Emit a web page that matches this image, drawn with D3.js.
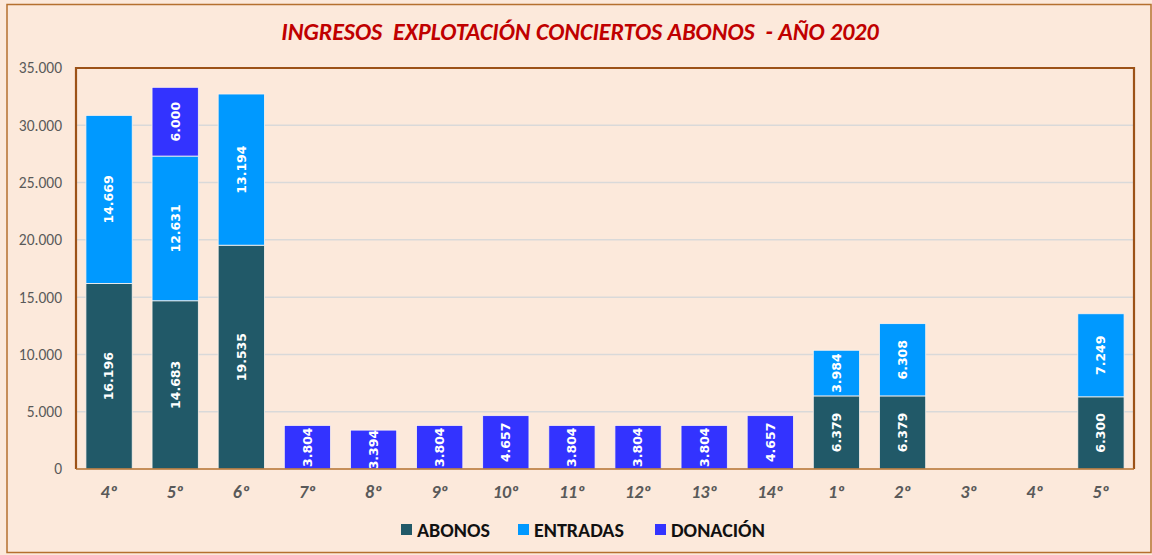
<!DOCTYPE html>
<html>
<head>
<meta charset="utf-8">
<script src="https://cdn.jsdelivr.net/npm/d3@7"></script>
<style>
  body { margin: 0; background: #fff; }
  svg { display: block; }
</style>
</head>
<body>
<svg id="chart"></svg>
<script>
const categories = ['4º', '5º', '6º', '7º', '8º', '9º', '10º', '11º', '12º', '13º', '14º', '1º', '2º', '3º', '4º', '5º']
const abonos = [16196, 14683, 19535, 0, 0, 0, 0, 0, 0, 0, 0, 6379, 6379, 0, 0, 6300]
const entradas = [14669, 12631, 13194, 0, 0, 0, 0, 0, 0, 0, 0, 3984, 6308, 0, 0, 7249]
const donacion = [0, 6000, 0, 3804, 3394, 3804, 4657, 3804, 3804, 3804, 4657, 0, 0, 0, 0, 0]
const seriesNames = ['ABONOS', 'ENTRADAS', 'DONACIÓN']
const yTicks = [0, 5000, 10000, 15000, 20000, 25000, 30000, 35000]
const title = 'INGRESOS  EXPLOTACIÓN CONCIERTOS ABONOS  - AÑO 2020'

const colors = { ABONOS: '#215968', ENTRADAS: '#0099FF', 'DONACIÓN': '#3333FF' }

const width = 1152
const height = 555
const margin = { top: 68, right: 18, bottom: 86, left: 76 }
const font = 'Carlito, Lato, "Open Sans", sans-serif'

const svg = d3.select('#chart').attr('width', width).attr('height', height)

// background + outer frame
svg.append('rect')
  .attr('x', 0).attr('y', 0).attr('width', width).attr('height', height)
  .attr('fill', '#FCE9DB')
svg.append('rect')
  .attr('x', 7).attr('y', 4.5).attr('width', width - 8).attr('height', height - 7)
  .attr('fill', 'none').attr('stroke', '#B5702F').attr('stroke-width', 1.5)

const table = categories.map((c, i) => ({
  idx: i, cat: c, ABONOS: abonos[i], ENTRADAS: entradas[i], 'DONACIÓN': donacion[i]
}))
const stacked = d3.stack().keys(seriesNames)(table)

const x = d3.scaleBand()
  .domain(d3.range(categories.length))
  .range([margin.left, width - margin.right])
  .paddingInner(0.3)
  .paddingOuter(0.15)

const y = d3.scaleLinear()
  .domain([0, 35000])
  .range([height - margin.bottom, margin.top])

const fmt = v => d3.format(',')(v).replace(/,/g, '.')

// gridlines
svg.append('g')
  .selectAll('line')
  .data(yTicks.filter(t => t > 0 && t < 35000))
  .join('line')
  .attr('x1', margin.left).attr('x2', width - margin.right)
  .attr('y1', d => y(d)).attr('y2', d => y(d))
  .attr('stroke', '#D9D9D9').attr('stroke-width', 1.5)

// y axis labels
const yAxis = d3.axisLeft(y).tickValues(yTicks).tickFormat(fmt).tickSize(0).tickPadding(14)
const yg = svg.append('g').attr('transform', `translate(${margin.left},0)`).call(yAxis)
yg.select('.domain').remove()
yg.selectAll('text')
  .attr('fill', '#595959')
  .style('font-family', font)
  .style('font-size', '15.5px')

// bars
const layer = svg.append('g')
  .selectAll('g')
  .data(stacked)
  .join('g')
  .attr('fill', d => colors[d.key])

layer.selectAll('rect')
  .data(d => d.filter(s => s[1] - s[0] > 0))
  .join('rect')
  .attr('x', d => x(d.data.idx))
  .attr('y', d => y(d[1]))
  .attr('width', x.bandwidth())
  .attr('height', d => y(d[0]) - y(d[1]))
  .attr('stroke', '#FDF3EC').attr('stroke-width', 0.8)

// value labels
layer.selectAll('text')
  .data(d => d.filter(s => s[1] - s[0] > 0))
  .join('text')
  .attr('transform', d => {
    const cx = x(d.data.idx) + x.bandwidth() / 2
    const cy = (y(d[0]) + y(d[1])) / 2
    return `translate(${cx},${cy}) rotate(-90)`
  })
  .attr('text-anchor', 'middle')
  .attr('dy', '0.35em')
  .attr('fill', '#fff')
  .style('font-family', '"DejaVu Sans", sans-serif')
  .style('font-weight', 'bold')
  .style('font-size', '12.5px')
  .text(d => fmt(d[1] - d[0]))

// plot frame (left, top, right, bottom)
const x0 = margin.left, x1 = width - margin.right, y0 = margin.top, y1 = height - margin.bottom
svg.append('path')
  .attr('d', `M${x0},${y1} L${x0},${y0} L${x1},${y0} L${x1},${y1}`)
  .attr('fill', 'none').attr('stroke', '#9C5218').attr('stroke-width', 2.2)
svg.append('line')
  .attr('x1', x0).attr('x2', x1).attr('y1', y1).attr('y2', y1)
  .attr('stroke', '#B5702F').attr('stroke-width', 1.5)

// x labels
svg.append('g')
  .selectAll('text')
  .data(categories)
  .join('text')
  .attr('x', (d, i) => x(i) + x.bandwidth() / 2)
  .attr('y', y1 + 29)
  .attr('text-anchor', 'middle')
  .attr('fill', '#595959')
  .style('font-family', font)
  .style('font-weight', 'bold')
  .style('font-style', 'italic')
  .style('font-size', '18px')
  .text(d => d)

// title
svg.append('text')
  .attr('x', 580).attr('y', 40)
  .attr('text-anchor', 'middle')
  .attr('fill', '#C00000')
  .style('font-family', font)
  .style('font-weight', 'bold')
  .style('font-style', 'italic')
  .style('font-size', '24px')
  .style('white-space', 'pre')
  .text(title)

// legend
const legendX = [401, 518, 655]
const legend = svg.append('g')
  .selectAll('g')
  .data(seriesNames)
  .join('g')
  .attr('transform', (d, i) => `translate(${legendX[i]},530)`)
legend.append('rect')
  .attr('x', 0).attr('y', -6).attr('width', 11).attr('height', 11)
  .attr('fill', d => colors[d])
legend.append('text')
  .attr('x', 16).attr('y', 0).attr('dy', '0.36em')
  .attr('fill', '#111')
  .style('font-family', font)
  .style('font-weight', 'bold')
  .style('font-size', '20px')
  .text(d => d)
</script>
</body>
</html>
